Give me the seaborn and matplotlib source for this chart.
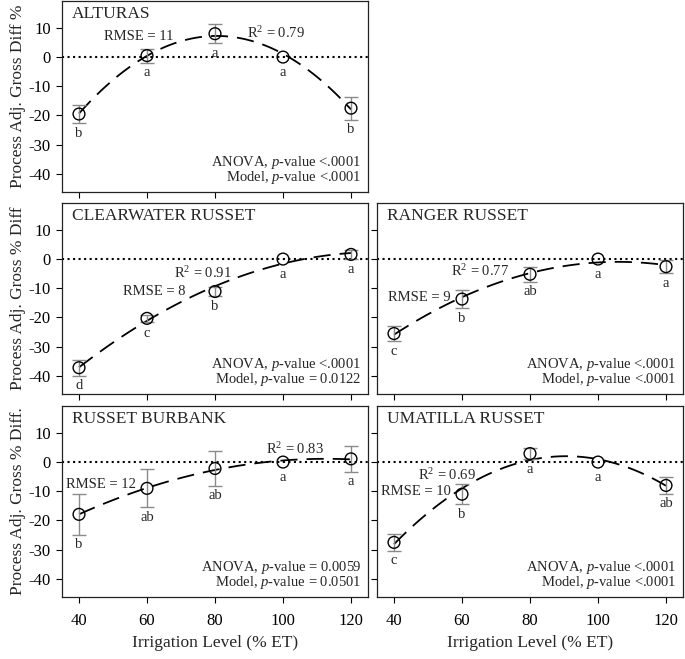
import numpy as np
import pandas as pd
import matplotlib
matplotlib.use('Agg')
import matplotlib.pyplot as plt
import seaborn as sns

# irrigation levels (% ET)
irrigation = [40, 60, 80, 100, 120]

# mean process adj. gross % diff, error bar half-length and mean-separation letters
alturas_mean = [-19.5, 0.5, 8.0, 0.0, -17.5]
alturas_err = [3.1, 2.4, 3.3, 0.0, 4.0]
alturas_letters = ['b', 'a', 'a', 'a', 'b']

clearwater_mean = [-37.2, -20.3, -11.1, 0.0, 1.6]
clearwater_err = [2.8, 1.3, 1.7, 0.0, 1.5]
clearwater_letters = ['d', 'c', 'b', 'a', 'a']

ranger_mean = [-25.5, -13.7, -5.2, 0.0, -2.6]
ranger_err = [2.6, 3.2, 2.5, 0.0, 2.3]
ranger_letters = ['c', 'b', 'ab', 'a', 'a']

burbank_mean = [-17.9, -9.0, -2.2, 0.0, 1.1]
burbank_err = [6.9, 6.5, 6.0, 0.0, 4.4]
burbank_letters = ['b', 'ab', 'ab', 'a', 'a']

umatilla_mean = [-27.5, -11.0, 2.9, 0.0, -8.0]
umatilla_err = [2.8, 3.5, 2.0, 0.0, 2.8]
umatilla_letters = ['c', 'b', 'a', 'a', 'ab']

cultivars = ['ALTURAS', 'CLEARWATER RUSSET', 'RANGER RUSSET', 'RUSSET BURBANK', 'UMATILLA RUSSET']
rmse_values = ['11', '8', '9', '12', '10']
r2_values = ['0.79', '0.91', '0.77', '0.83', '0.69']
anova_p = ['<.0001', '<.0001', '<.0001', '= 0.0059', '<.0001']
model_p = ['<.0001', '= 0.0122', '<.0001', '= 0.0501', '<.0001']

ylabels = ['Process Adj. Gross Diff %', 'Process Adj. Gross % Diff', 'Process Adj. Gross % Diff.']

sns.set_theme(style='ticks')
plt.rcParams['font.family'] = ['Liberation Serif', 'DejaVu Serif']
plt.rcParams['axes.unicode_minus'] = False
plt.rcParams['mathtext.fontset'] = 'custom'
plt.rcParams['mathtext.rm'] = 'Liberation Serif'
plt.rcParams['mathtext.it'] = 'Liberation Serif:italic'
plt.rcParams['mathtext.bf'] = 'Liberation Serif:bold'

fig = plt.figure(figsize=(6.85, 6.59), dpi=100)

W, H = 685, 659
def make_ax(x0, y_top):
    return fig.add_axes([x0 / W, (H - y_top - 191) / H, 306 / W, 191 / H])

ax_alt = make_ax(62, 1)
ax_cw = make_ax(62, 203)
ax_rr = make_ax(377, 203)
ax_rb = make_ax(62, 406)
ax_um = make_ax(377, 406)

panels = [
    (ax_alt, alturas_mean, alturas_err, alturas_letters, (57.5, 6.9), (98.0, 8.1), 0, True, False),
    (ax_cw, clearwater_mean, clearwater_err, clearwater_letters, (62.0, -11.1), (76.5, -4.7), 1, True, False),
    (ax_rr, ranger_mean, ranger_err, ranger_letters, (47.5, -13.0), (65.4, -4.2), None, False, False),
    (ax_rb, burbank_mean, burbank_err, burbank_letters, (46.4, -7.6), (103.4, 4.3), 2, True, True),
    (ax_um, umatilla_mean, umatilla_err, umatilla_letters, (46.5, -10.2), (55.5, -4.5), None, False, True),
]

for i, (ax, mean, err, letters, rmse_pos, r2_pos, ylab, left_labels, bottom_labels) in enumerate(panels):
    ax.axhline(0, color='black', ls=':', lw=1.5, zorder=1)
    sns.regplot(x=irrigation, y=mean, order=2, ci=None, scatter=False, ax=ax,
                line_kws=dict(color='black', lw=1.3, ls=(0, (9.5, 5))))
    has_err = [j for j, e in enumerate(err) if e > 0]
    ax.errorbar([irrigation[j] for j in has_err], [mean[j] for j in has_err],
                yerr=[err[j] for j in has_err], fmt='none', ecolor='#8a8a8a',
                elinewidth=1.0, capsize=5, capthick=1.0, zorder=3)
    sns.scatterplot(x=irrigation, y=mean, ax=ax, marker='o', s=72,
                    facecolor='none', edgecolor='black', linewidth=1.0, zorder=5)
    for x, m, e, lt in zip(irrigation, mean, err, letters):
        ax.text(x, m - max(e, 1.9) - 4.6, lt, ha='center', va='baseline', fontsize=10.5)

    ax.text(*rmse_pos, f'RMSE = {rmse_values[i]}', ha='center', va='center', fontsize=10.5)
    ax.text(*r2_pos, f'R$^2$ = {r2_values[i]}', ha='center', va='center', fontsize=10.5)
    ax.text(0.977, 0.138, f'ANOVA, $\\mathit{{p}}$-value {anova_p[i]}', transform=ax.transAxes,
            ha='right', va='baseline', fontsize=10.5)
    ax.text(0.977, 0.057, f'Model, $\\mathit{{p}}$-value {model_p[i]}', transform=ax.transAxes,
            ha='right', va='baseline', fontsize=10.5)
    ax.text(0.032, 0.909, cultivars[i], transform=ax.transAxes, ha='left', va='baseline',
            fontsize=12.5)

    ax.set_xlim(35, 125)
    ax.set_ylim(-46.2, 19.2)
    ax.set_xticks(irrigation)
    ax.set_yticks([-40, -30, -20, -10, 0, 10])
    ax.tick_params(axis='both', direction='out', length=4, width=0.8, color='black',
                   labelsize=12, labelcolor='black')
    ax.tick_params(axis='x', pad=7.5, labelbottom=bottom_labels)
    ax.tick_params(axis='y', pad=4, labelleft=left_labels)
    for sp in ax.spines.values():
        sp.set_visible(True)
        sp.set_color('#222222')
        sp.set_linewidth(0.9)
    ax.set_xlabel('')
    ax.set_ylabel('')
    if ylab is not None:
        ax.set_ylabel(ylabels[ylab], fontsize=12.5, labelpad=2)
    if bottom_labels:
        ax.set_xlabel('Irrigation Level (% ET)', fontsize=12.5, labelpad=4)

fig.savefig('out.png', dpi=100)
